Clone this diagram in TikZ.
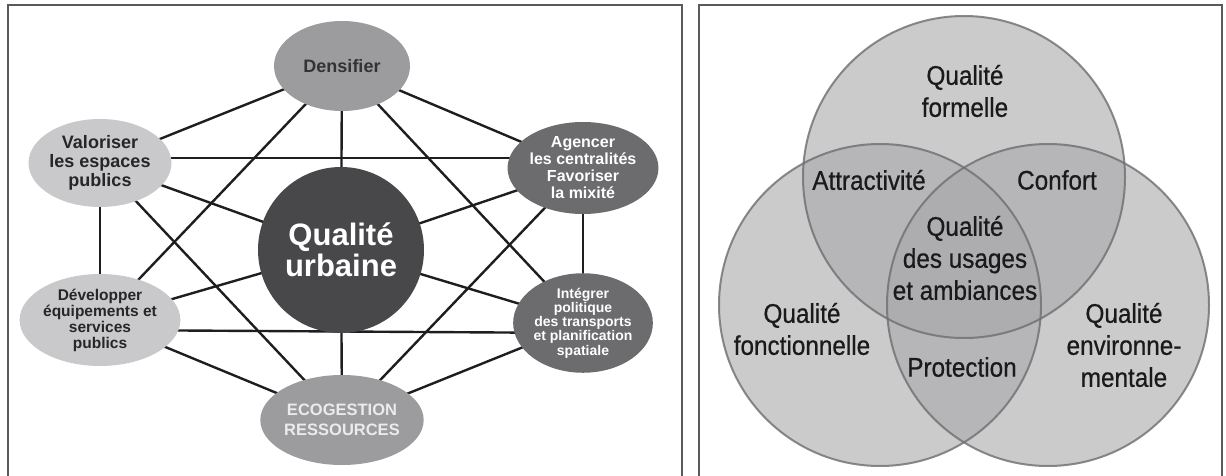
\documentclass[tikz,border=0pt]{standalone}
\usepackage{fontspec}
\setmainfont{Liberation Sans}
\newfontfamily\vennfont[FakeStretch=0.9,FakeBold=0.6]{Liberation Sans}
\usetikzlibrary{shapes.geometric,backgrounds}
\definecolor{frameC}{HTML}{5A5A5A}
\definecolor{lineC}{HTML}{1E1E1E}
\definecolor{qu}{HTML}{48484A}
\definecolor{darkN}{HTML}{6C6C6F}
\definecolor{midN}{HTML}{9C9C9E}
\definecolor{lightN}{HTML}{C9C9CB}
\definecolor{vennFill}{HTML}{A8A8AA}
\definecolor{vennLine}{HTML}{6E6E70}
\definecolor{vennText}{HTML}{1A1A1A}
\tikzset{
  panel/.style={draw=frameC, line width=1.5pt},
  bubble/.style={ellipse, inner sep=0pt, align=center},
  midbubble/.style={bubble, fill=midN, text=black!80, minimum width=136pt, minimum height=90pt},
  lightbubble/.style={bubble, fill=lightN, text=black!85, minimum width=134pt, minimum height=88pt},
  darkbubble/.style={bubble, fill=darkN, text=white, minimum width=134pt, minimum height=92pt},
  link/.style={draw=lineC, line width=2.4pt},
  vennc/.style={fill=vennFill, fill opacity=0.6},
  venno/.style={draw=vennLine, line width=2pt, draw opacity=0.8},
  vtext/.style={text=vennText, align=center, inner sep=0pt, font=\vennfont\fontsize{27}{32}\selectfont}
}
\begin{document}
\begin{tikzpicture}[x=1pt,y=-1pt]
\useasboundingbox (0,0) rectangle (1226,476);
% frames
\draw[panel] (8,490) -- (8,5) -- (682,5) -- (682,490);
\draw[panel] (699,490) -- (699,5) -- (1222,5) -- (1222,490);
% left diagram nodes
\node[midbubble, font=\bfseries\fontsize{18}{20}\selectfont] (dens) at (342,66) {Densifier};
\node[midbubble, text=white!92!black, font=\bfseries\fontsize{16.5}{20}\selectfont] (eco) at (342,420) {ECOGESTION\\RESSOURCES};
\node[lightbubble, font=\bfseries\fontsize{18}{19}\selectfont] (val) at (100,163) {Valoriser\\les espaces\\publics};
\node[lightbubble, minimum height=92pt, font=\bfseries\fontsize{15.5}{16}\selectfont] (dev) at (100,320) {Développer\\équipements et\\services\\publics};
\node[darkbubble, font=\bfseries\fontsize{16}{17}\selectfont] (age) at (583,168) {Agencer\\les centralités\\Favoriser\\la mixité};
\node[darkbubble, font=\bfseries\fontsize{14}{14.3}\selectfont, minimum height=90pt] (int) at (583,323) {Intégrer\\politique\\des transports\\et planification\\spatiale};
\node[circle, fill=qu, text=white, inner sep=0pt, minimum size=166pt, align=center, font=\bfseries\fontsize{31}{31}\selectfont] (qu) at (341,250) {Qualité\\urbaine};
\begin{scope}[on background layer]
\foreach \a/\b in {dens/val, dens/age, dens/qu, dens/dev, dens/int,
  val/qu, val/dev, val/eco,
  age/qu, age/int, age/eco,
  dev/qu, dev/eco,
  int/qu, int/eco, qu/eco}
  \draw[link] (\a.center) -- (\b.center);
\draw[link] ([yshift=5pt]val.center) -- ([yshift=10pt]age.center);
\draw[link] ([yshift=-10pt]dev.center) -- ([yshift=-10pt]int.center);
\end{scope}
% Venn diagram
\coordinate (ctop) at (964,177);
\coordinate (cleft) at (880,305);
\coordinate (cright) at (1048,305);
\fill[vennc] (ctop) circle (161);
\fill[vennc] (cleft) circle (161);
\fill[vennc] (cright) circle (161);
\draw[venno] (ctop) circle (161);
\draw[venno] (cleft) circle (161);
\draw[venno] (cright) circle (161);
\node[vtext] (tform) at (965,91) {Qualité\\formelle};
\node[vtext] (tattr) at (869,180) {Attractivité};
\node[vtext] (tconf) at (1057,180) {Confort};
\node[vtext] (tusage) at (965,258) {Qualité\\des usages\\et ambiances};
\node[vtext] (tfonc) at (802,329) {Qualité\\fonctionnelle};
\node[vtext] (tprot) at (962,367) {Protection};
\node[vtext] (tenv) at (1124,345) {Qualité\\environne-\\mentale};
\end{tikzpicture}
\end{document}
